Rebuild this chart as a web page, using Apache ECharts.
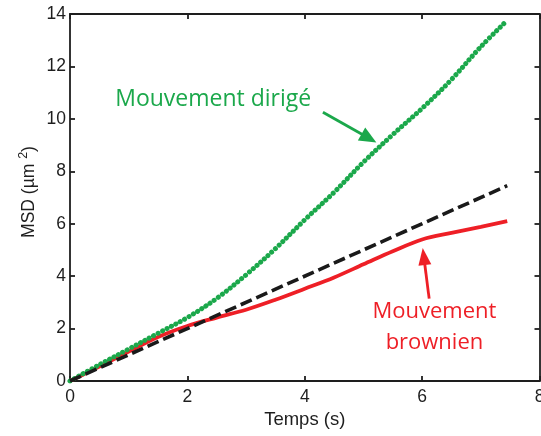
<!DOCTYPE html>
<html><head><meta charset="utf-8">
<script src="https://cdn.jsdelivr.net/npm/echarts@6/dist/echarts.min.js"></script>
<style>html,body{margin:0;padding:0;background:#fff}#c{width:541px;height:436px}</style>
</head><body><div id="c"></div>
<script>
// ---- data ----
const time      = [0, 0.5, 1, 1.5, 2, 2.5, 3, 3.5, 4, 4.5, 5, 5.5, 6, 6.5, 7, 7.45];
const directed  = [0, 0.62, 1.22, 1.82, 2.42, 3.15, 4.05, 5.05, 6.15, 7.2, 8.35, 9.4, 10.4, 11.5, 12.75, 13.76];
const brownian  = [0, 0.55, 1.12, 1.68, 2.1, 2.42, 2.72, 3.1, 3.52, 3.95, 4.45, 4.95, 5.4, 5.65, 5.88, 6.1];
const refTime   = [0, 7.45];
const refMSD    = [0, 7.45];
const xTickLabels = ['0', '2', '4', '6', '8'];
const yTickLabels = ['0', '2', '4', '6', '8', '10', '12', '14'];
const xTitle = 'Temps (s)';
const labelDirected = 'Mouvement dirigé';
const labelBrownian = 'Mouvement\nbrownien';
// annotation anchors in data coordinates: [x, y]
const arrowDirected = {tail: [4.31, 10.25], tip: [5.22, 9.1]};
const arrowBrownian = {tail: [6.12, 3.14], tip: [6.01, 5.07]};
const textDirectedAt = [0.77, 10.74];
const textBrownianAt = [6.21, 2.05];

const GREEN = '#1ba84b', RED = '#ee1f26', BLACK = '#1a1a1a', AX = '#1e1e1e';
const pairs = (xs, ys) => xs.map((x, i) => [x, ys[i]]);

const chart = echarts.init(document.getElementById('c'), null, {renderer: 'canvas'});
const fontAx = 'Liberation Sans, Arial, sans-serif';
const xMin = +xTickLabels[0], xMax = +xTickLabels[xTickLabels.length - 1];
const yMin = +yTickLabels[0], yMax = +yTickLabels[yTickLabels.length - 1];
const xInt = xTickLabels[1] - xTickLabels[0], yInt = yTickLabels[1] - yTickLabels[0];

function axisBase(show) {
  return {
    type: 'value',
    axisLine: {show: true, onZero: false, lineStyle: {color: AX, width: 1.8}},
    axisTick: {show: true, inside: true, length: 5, lineStyle: {color: AX, width: 1.8}},
    splitLine: {show: false},
    axisLabel: {show: show, color: '#1e1e1e', fontSize: 17.5, fontFamily: fontAx}
  };
}
const xBottom = Object.assign(axisBase(true), {min: xMin, max: xMax, interval: xInt, position: 'bottom',
  name: xTitle, nameLocation: 'middle', nameGap: 27,
  nameTextStyle: {fontSize: 18.5, color: '#1e1e1e', fontFamily: fontAx}});
xBottom.axisLabel.margin = 7;
const xTop = Object.assign(axisBase(false), {min: xMin, max: xMax, interval: xInt, position: 'top'});
const yLeft = Object.assign(axisBase(true), {min: yMin, max: yMax, interval: yInt, position: 'left'});
yLeft.axisLabel.margin = 4;
const yRight = Object.assign(axisBase(false), {min: yMin, max: yMax, interval: yInt, position: 'right'});

chart.setOption({
  animation: false,
  backgroundColor: '#fff',
  grid: {left: 70, right: 1.5, top: 14, bottom: 55, containLabel: false, outerBoundsMode: 'none'},
  xAxis: [xBottom, xTop],
  yAxis: [yLeft, yRight],
  series: [
    {type: 'line', name: 'brownien', data: pairs(time, brownian), smooth: 0.35, showSymbol: false,
     xAxisIndex: 0, yAxisIndex: 0, lineStyle: {color: RED, width: 3.8}, z: 2},
    {type: 'line', name: 'dirigé', data: pairs(time, directed), smooth: 0.35, showSymbol: false,
     xAxisIndex: 0, yAxisIndex: 0, lineStyle: {color: GREEN, width: 5, type: [0.01, 5], cap: 'round'}, z: 3},
    {type: 'line', name: 'ref', data: pairs(refTime, refMSD), showSymbol: false,
     xAxisIndex: 0, yAxisIndex: 0, lineStyle: {color: BLACK, width: 3.6, type: [12, 5]}, z: 4}
  ]
});

const P = (pt) => chart.convertToPixel({gridIndex: 0}, pt);
function arrow(a, color, w, headLen, headHalf) {
  const t = P(a.tail), h = P(a.tip);
  const dx = h[0] - t[0], dy = h[1] - t[1], L = Math.hypot(dx, dy);
  const ux = dx / L, uy = dy / L, nx = -uy, ny = ux;
  const bx = h[0] - ux * headLen, by = h[1] - uy * headLen;
  return [
    {type: 'line', shape: {x1: t[0], y1: t[1], x2: bx + ux * 2, y2: by + uy * 2},
     style: {stroke: color, lineWidth: w}, z: 10},
    {type: 'polygon', shape: {points: [[h[0], h[1]], [bx + nx * headHalf, by + ny * headHalf], [bx - nx * headHalf, by - ny * headHalf]]},
     style: {fill: color}, z: 10}
  ];
}
const td = P(textDirectedAt), tb = P(textBrownianAt);
chart.setOption({
  graphic: [
    ...arrow(arrowDirected, GREEN, 2.8, 17, 7.5),
    ...arrow(arrowBrownian, RED, 2.8, 17, 6.5),
    {type: 'text', x: td[0], y: td[1], z: 10,
     style: {text: labelDirected, fill: GREEN, font: '23px "Open Sans", sans-serif', align: 'left', verticalAlign: 'middle'}},
    {type: 'text', x: tb[0], y: tb[1], z: 10,
     style: {text: labelBrownian, fill: RED, font: '22px "Open Sans", sans-serif', align: 'center', verticalAlign: 'middle', lineHeight: 31}},
    {type: 'text', x: 28, y: 192, rotation: Math.PI / 2, z: 10,
     style: {text: '{a|MSD (µm }{s|2}{a|)}', align: 'center', verticalAlign: 'middle',
       rich: {a: {fontSize: 17.5, fontFamily: fontAx, fill: '#1e1e1e', lineHeight: 21, verticalAlign: 'bottom'},
              s: {fontSize: 12.5, fontFamily: fontAx, fill: '#1e1e1e', verticalAlign: 'top'}}}}
  ]
});
</script></body></html>
